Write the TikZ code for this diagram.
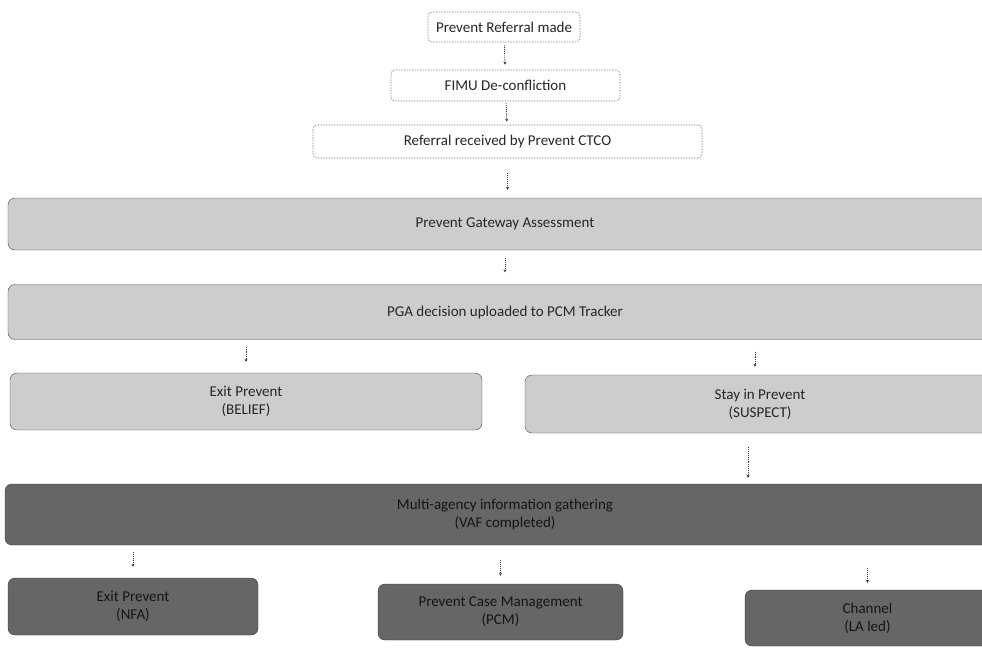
\documentclass[tikz,border=0pt]{standalone}
\usepackage{fontspec}
\setmainfont{Carlito}
\usetikzlibrary{arrows.meta}
\definecolor{lightfill}{HTML}{CDCDCD}
\definecolor{darkfill}{HTML}{666666}
\definecolor{inktext}{HTML}{262626}
\begin{document}
\begin{tikzpicture}[
  x=1pt, y=-1pt,
  font=\fontsize{15}{18}\selectfont,
  start/.style={draw=black!65, densely dotted, line width=0.6pt, fill=white, rounded corners=4pt, inner sep=0pt, text=inktext},
  stage/.style={draw=gray!55!black, fill=lightfill, rounded corners=7pt, inner sep=0pt, align=center, text=inktext},
  outcome/.style={draw=gray!40!black, fill=darkfill, rounded corners=7pt, inner sep=0pt, align=center, text=black!92},
  line/.style={-{Stealth[length=3pt,width=3pt]}, densely dotted, draw=black!80, line width=0.9pt}
]
\useasboundingbox (0,0) rectangle (982,648);
\clip (0,0) rectangle (982,648);

\node[start, minimum width=152, minimum height=30] (referral) at (504,27) {Prevent Referral made};
\node[start, minimum width=229, minimum height=31] (fimu) at (505.5,85.5) {FIMU De-confliction};
\node[start, minimum width=389, minimum height=33] (ctco) at (507.5,141.5) {Referral received by Prevent CTCO};
\draw[line, shorten <=3pt, shorten >=5pt] (referral) -- (fimu);
\draw[line, shorten <=2pt, shorten >=3pt] (fimu) -- (ctco);

\node[stage, minimum width=994, minimum height=52] (pga) at (505,224) {Prevent Gateway Assessment};
\node[stage, minimum width=994, minimum height=55] (decision) at (505,312) {PGA decision uploaded to PCM Tracker};
\draw[line, shorten <=15pt, shorten >=8pt] (ctco.south) -- (ctco.south |- pga.north);
\draw[line, shorten <=8pt, shorten >=12pt] (pga) -- (decision);

\node[stage, minimum width=472, minimum height=57] (exit) at (246,401.5) {Exit Prevent\\(BELIEF)};
\node[stage, minimum width=470, minimum height=58] (stay) at (760,404) {Stay in Prevent\\(SUSPECT)};
\draw[line, shorten <=7pt, shorten >=11pt] (exit.north |- decision.south) -- (exit.north);
\draw[line, shorten <=12pt, shorten >=8pt] ([xshift=-5pt]stay.north |- decision.south) -- ([xshift=-5pt]stay.north);

\node[outcome, minimum width=1000, minimum height=61] (gathering) at (505,514.5) {Multi-agency information gathering\\(VAF completed)};
\draw[line, shorten <=14pt, shorten >=6pt] ([xshift=-12pt]stay.south) -- ([xshift=-12pt]stay.south |- gathering.north);

\node[outcome, minimum width=250, minimum height=57] (nfa) at (133,606.5) {Exit Prevent\\(NFA)};
\node[outcome, minimum width=245, minimum height=56] (pcm) at (500.5,612) {Prevent Case Management\\(PCM)};
\node[outcome, minimum width=245, minimum height=56] (channel) at (867.5,618) {Channel\\(LA led)};
\draw[line, shorten <=7pt, shorten >=11pt] (nfa.north |- gathering.south) -- (nfa.north);
\draw[line, shorten <=15pt, shorten >=8pt] (pcm.north |- gathering.south) -- (pcm.north);
\draw[line, shorten <=23pt, shorten >=7pt] (channel.north |- gathering.south) -- (channel.north);
\end{tikzpicture}
\end{document}
